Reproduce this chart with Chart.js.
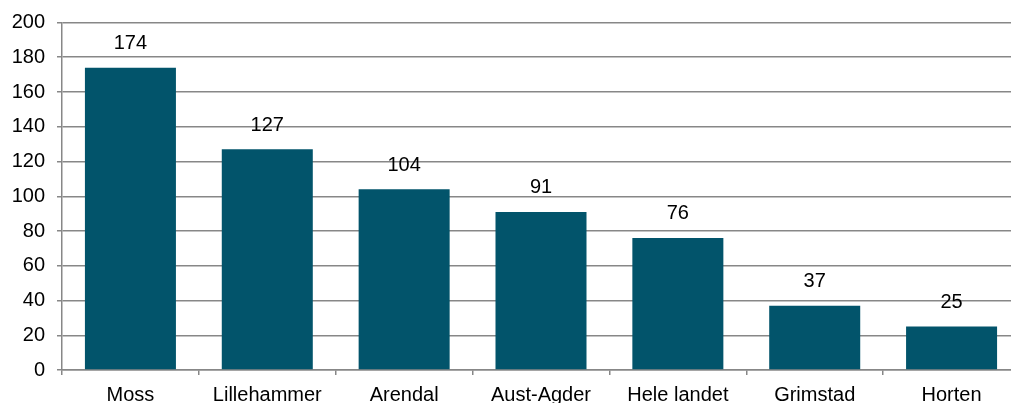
<!DOCTYPE html>
<html>
<head>
<meta charset="utf-8">
<script src="https://cdn.jsdelivr.net/npm/chart.js@4"></script>
<style>
  html, body { margin: 0; padding: 0; background: #fff; overflow: hidden; }
  #wrap { width: 1020px; height: 403px; position: relative; }
</style>
</head>
<body>
<div id="wrap"><canvas id="chart"></canvas></div>
<script>
// data
const categories = ['Moss', 'Lillehammer', 'Arendal', 'Aust-Agder', 'Hele landet', 'Grimstad', 'Horten'];
const values = [174, 127, 104, 91, 76, 37, 25];

const barColor = '#02546b';
const gridColor = '#878787';
const font = { family: '"Liberation Sans", Arial, sans-serif', size: 20 };
// y tick font with tighter line height so the plot top lands at ~21px
const yFont = { family: font.family, size: 20, lineHeight: 1.05 };

// value labels above each bar
const valueLabels = {
    id: 'valueLabels',
    afterDatasetsDraw(chart) {
        const ctx = chart.ctx;
        const meta = chart.getDatasetMeta(0);
        ctx.save();
        ctx.font = font.size + 'px ' + font.family;
        ctx.fillStyle = '#000';
        ctx.textAlign = 'center';
        ctx.textBaseline = 'middle';
        meta.data.forEach(function(bar, i) {
            ctx.fillText(values[i], bar.x, bar.y - 24);
        });
        ctx.restore();
    }
};

const ctx = document.getElementById('chart').getContext('2d');
const chart = new Chart(ctx, {
    type: 'bar',
    data: {
        labels: categories,
        datasets: [{
            data: values,
            backgroundColor: barColor,
            borderWidth: 0,
            categoryPercentage: 1,
            barPercentage: 0.665
        }]
    },
    options: {
        responsive: true,
        maintainAspectRatio: false,
        animation: false,
        layout: { padding: { top: 0, left: 0, right: 0, bottom: 0 } },
        plugins: {
            legend: { display: false },
            tooltip: { enabled: false }
        },
        scales: {
            x: {
                offset: true,
                grid: {
                    offset: true,
                    drawOnChartArea: false,
                    drawTicks: true,
                    tickLength: 5,
                    color: gridColor,
                    lineWidth: 1.5
                },
                border: { display: true, color: gridColor, width: 1.5 },
                ticks: { color: '#000', font: font, padding: 8, maxRotation: 0 },
                afterFit(scale) { scale.height = 33; }
            },
            y: {
                min: 0,
                max: 200,
                ticks: { stepSize: 20, color: '#000', font: yFont, padding: 12 },
                grid: {
                    color: gridColor,
                    lineWidth: 1.5,
                    drawTicks: true,
                    tickLength: 5
                },
                border: { display: true, color: gridColor, width: 1.5 },
                afterFit(scale) { scale.width = 62; }
            }
        }
    },
    plugins: [valueLabels]
});
</script>
</body>
</html>
